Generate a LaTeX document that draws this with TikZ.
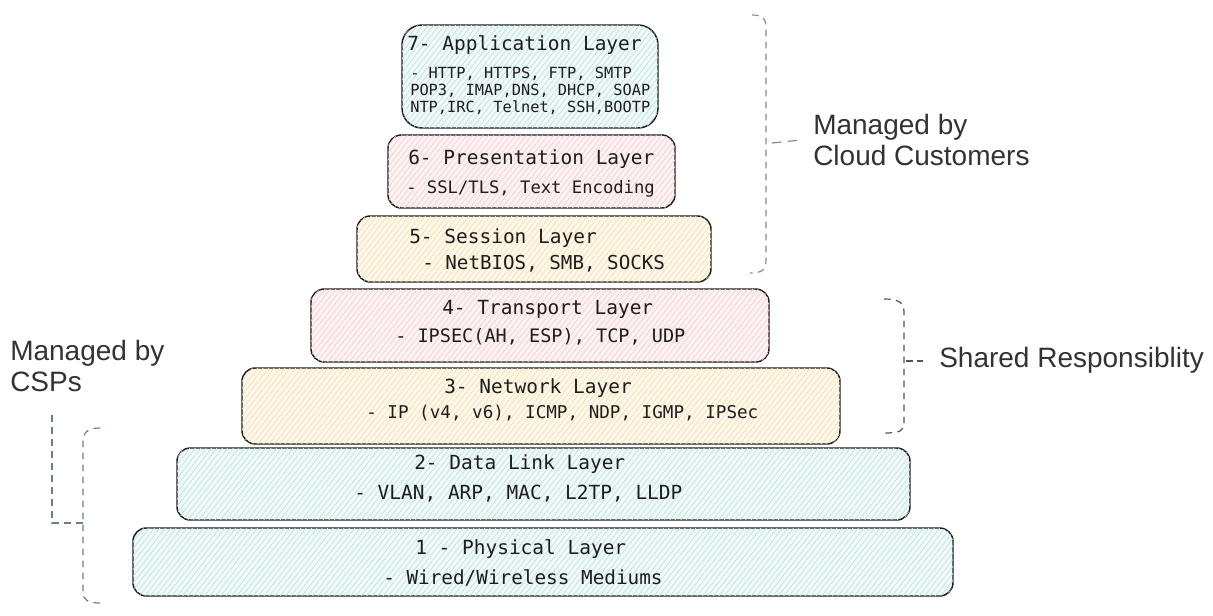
\documentclass[tikz,border=0pt]{standalone}
\usepackage{fontspec}
\setmainfont{Liberation Sans}
\newfontfamily\monof{DejaVu Sans Mono}
\usetikzlibrary{patterns.meta}
\definecolor{ink}{HTML}{1E1E1E}
\definecolor{lbl}{HTML}{333333}
\definecolor{cyanbase}{HTML}{F0F9F8}
\definecolor{cyanhatch}{HTML}{BDE5E1}
\definecolor{pinkbase}{HTML}{FDF2F2}
\definecolor{pinkhatch}{HTML}{F5D2D2}
\definecolor{yelbase}{HTML}{FEF8EA}
\definecolor{yelhatch}{HTML}{F5E2B4}
\definecolor{brkgray}{HTML}{8A8A8A}
\definecolor{brkbrown}{HTML}{5E5249}
\definecolor{brkteal}{HTML}{6F7F7F}
\tikzset{
  layer/.style={draw=ink, line width=1.1pt, rounded corners=10pt, inner sep=0pt},
  hatch/.style 2 args={fill=#1, postaction={pattern={Lines[angle=52,distance=3.2pt,line width=0.55pt]}, pattern color=#2}},
  cyanbox/.style={hatch={cyanbase}{cyanhatch}},
  pinkbox/.style={hatch={pinkbase}{pinkhatch}},
  yelbox/.style={hatch={yelbase}{yelhatch}},
  ttl/.style={anchor=west, inner sep=0pt, text=ink, font=\monof\fontsize{14.6}{16}\selectfont},
  bdy/.style={anchor=west, inner sep=0pt, text=ink, font=\monof\fontsize{#1}{#1}\selectfont},
  brk/.style={dashed, dash pattern=on 5pt off 4pt, line width=0.9pt},
  sidelbl/.style={align=left, inner sep=0pt, text=lbl, font=\fontsize{21}{23.25}\selectfont}
}
\begin{document}
\begin{tikzpicture}[x=0.75pt, y=-0.75pt]
\useasboundingbox (0,0) rectangle (1213,615);
% boxes
\node[layer, cyanbox, rounded corners=15pt, minimum width=192pt, minimum height=77.25pt] (L7) at (530,76.5) {};
\node[layer, pinkbox, minimum width=215.25pt, minimum height=54.75pt] (L6) at (531.5,171.5) {};
\node[layer, yelbox, minimum width=265.5pt, minimum height=49.5pt] (L5) at (534,249) {};
\node[layer, pinkbox, minimum width=343.5pt, minimum height=54.75pt] (L4) at (540,325.5) {};
\node[layer, yelbox, minimum width=448.5pt, minimum height=57pt] (L3) at (541,406) {};
\node[layer, cyanbox, minimum width=549.75pt, minimum height=54pt] (L2) at (543.5,484) {};
\node[layer, cyanbox, minimum width=615pt, minimum height=51pt] (L1) at (543,562) {};
% texts
\node[ttl] (t7) at (407,45.5) {7- Application Layer};
\node[bdy=11.5] (b7a) at (410,73.5) {- HTTP, HTTPS, FTP, SMTP};
\node[bdy=11.5] (b7b) at (410,90.5) {POP3, IMAP,DNS, DHCP, SOAP};
\node[bdy=11.5] (b7c) at (410,107.5) {NTP,IRC, Telnet, SSH,BOOTP};
\node[ttl] (t6) at (408,159.5) {6- Presentation Layer};
\node[bdy=12.9] (b6) at (406,188.5) {- SSL/TLS, Text Encoding};
\node[ttl] (t5) at (409,238.5) {5- Session Layer};
\node[bdy=14.4] (b5) at (422,263.5) {- NetBIOS, SMB, SOCKS};
\node[ttl] (t4) at (442,309.5) {4- Transport Layer};
\node[bdy=13.9] (b4) at (395,336.5) {- IPSEC(AH, ESP), TCP, UDP};
\node[ttl] (t3) at (444,388.5) {3- Network Layer};
\node[bdy=13.2] (b3) at (366,413.5) {- IP (v4, v6), ICMP, NDP, IGMP, IPSec};
\node[ttl] (t2) at (414,464.5) {2- Data Link Layer};
\node[bdy=14.6] (b2) at (354,493.5) {- VLAN, ARP, MAC, L2TP, LLDP};
\node[ttl] (t1) at (415,549.5) {1 - Physical Layer};
\node[bdy=14.5] (b1) at (383,577.5) {- Wired/Wireless Mediums};
% side labels
\node[sidelbl, anchor=west] (cc) at (813,140) {Managed by\\Cloud Customers};
\node[sidelbl, anchor=west] (sr) at (939,360) {Shared Responsiblity};
\node[sidelbl, anchor=north west] (csp) at (10,340) {Managed by\\CSPs};
% cloud customers bracket
\coordinate (ccm) at (772,143);
\draw[brk, draw=brkgray] (752,15) .. controls (762,15) and (766,18) .. (766,28) -- (766,260) .. controls (766,270) and (762,273) .. (750,273);
\draw[brk, draw=brkgray, dash pattern=on 7pt off 5pt] (ccm) -- (cc.west -| 801,143);
% shared bracket
\coordinate (srm) at (906,361);
\draw[brk, draw=brkbrown] (884,299) .. controls (898,299) and (904,302) .. (904,312) -- (904,423) .. controls (904,431) and (900,433) .. (884,433);
\draw[brk, draw=brkbrown, dash pattern=on 5pt off 3pt] (srm) -- (925,361);
% CSP bracket
\coordinate (cspb) at (83,523);
\draw[brk, draw=brkteal] (100,428) .. controls (88,428) and (83,432) .. (83,442) -- (83,592) .. controls (83,600) and (88,603) .. (100,603);
\draw[brk, draw=brkteal] (52,415) -- (52,523) -- (cspb);
\end{tikzpicture}
\end{document}
